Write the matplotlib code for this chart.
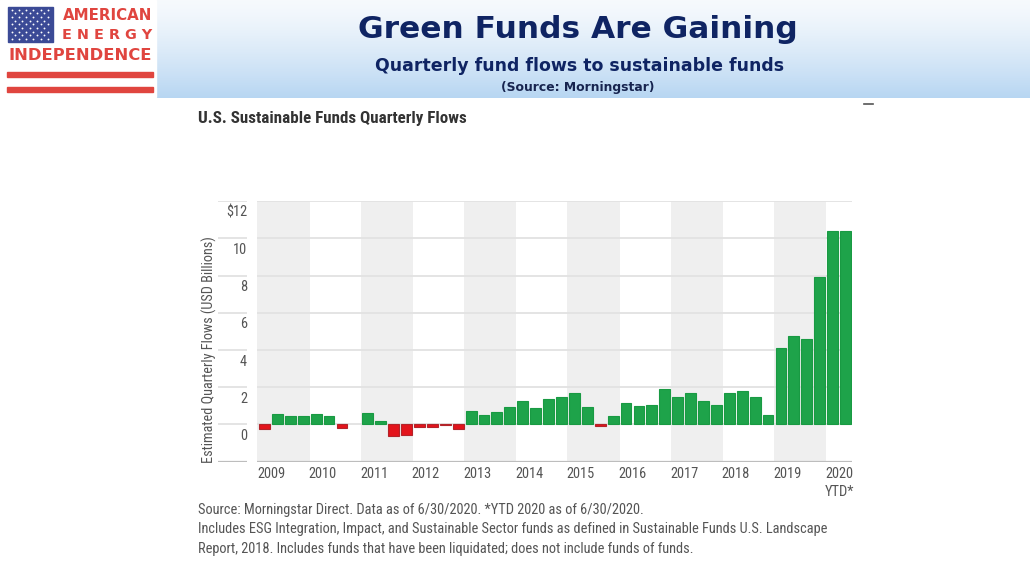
import numpy as np
import matplotlib
matplotlib.use("Agg")
import matplotlib.pyplot as plt
from matplotlib import font_manager

# quarterly flows, USD billions (2009 Q1 .. 2020 Q2)
years = ["2009", "2010", "2011", "2012", "2013", "2014", "2015",
         "2016", "2017", "2018", "2019", "2020"]
flows = [-0.25, 0.56, 0.43, 0.43,
         0.54, 0.47, -0.18, 0.0,
         0.59, 0.18, -0.61, -0.57,
         -0.14, -0.14, -0.03, -0.23,
         0.74, 0.50, 0.66, 0.91,
         1.27, 0.90, 1.38, 1.47,
         1.67, 0.95, -0.11, 0.45,
         1.13, 1.00, 1.04, 1.92,
         1.45, 1.67, 1.27, 1.06,
         1.70, 1.78, 1.49, 0.48,
         4.11, 4.75, 4.61, 7.91,
         10.42, 10.39]
ytick_vals = [0, 2, 4, 6, 8, 10, 12]
ytick_labels = ["0", "2", "4", "6", "8", "10", "$12"]

# pick the narrowest sans available for the Morningstar-style text
fonts = font_manager.fontManager.ttflist
names = {f.name for f in fonts}
stretch = "normal"
if "Liberation Sans Narrow" in names:
    narrow = "Liberation Sans Narrow"
elif "Roboto Condensed" in names:
    narrow = "Roboto Condensed"
elif any(f.name == "DejaVu Sans" and "condensed" in str(f.stretch) for f in fonts):
    narrow, stretch = "DejaVu Sans", "condensed"
else:
    narrow = "Liberation Sans"
nfont = dict(family=narrow, fontstretch=stretch)

W, H = 1030, 579
fig = plt.figure(figsize=(W / 100, H / 100), dpi=100)
fig.patch.set_facecolor("white")
rend = fig.canvas.get_renderer()


def fit(t, width):
    # scale a text's font size so it spans the given pixel width
    w = t.get_window_extent(rend).width
    t.set_fontsize(t.get_fontsize() * width / w)
    return t.get_fontsize()


# background axes in pixel coords for banner / logo / notes
bg = fig.add_axes([0, 0, 1, 1])
bg.set_xlim(0, W)
bg.set_ylim(H, 0)
bg.axis("off")

grad = np.linspace(0, 1, 100)[:, None]
top = np.array([0.965, 0.978, 0.992])
bot = np.array([0.72, 0.84, 0.95])
img = top + (bot - top) * grad[..., None] ** 1.3
bg.imshow(np.repeat(img, 2, axis=1), extent=[0, W, 98, 0], aspect="auto", zorder=0)

# logo
bg.add_patch(plt.Rectangle((0, 0), 156, 97, color="white", zorder=1))
bg.add_patch(plt.Rectangle((8, 7), 45, 35, color="#3b4a96", zorder=2))
sx, sy = [], []
for r in range(9):
    cols = 6 if r % 2 == 0 else 5
    off = 0 if r % 2 == 0 else 3.6
    for c in range(cols):
        sx.append(11.5 + off + c * 7.3)
        sy.append(9.5 + r * 3.7)
bg.scatter(sx, sy, s=1.8, color="white", zorder=3, linewidths=0)
red = "#e0453f"
bg.text(107.5, 15, "AMERICAN", color=red, fontsize=10.8, fontweight="bold",
        ha="center", va="center", zorder=3)
bg.text(107.5, 35, "E N E R G Y", color=red, fontsize=10.4, fontweight="bold",
        ha="center", va="center", zorder=3)
bg.text(80, 56, "INDEPENDENCE", color=red, fontsize=11.8, fontweight="bold",
        ha="center", va="center", zorder=3)
bg.add_patch(plt.Rectangle((7, 72), 146, 5, color=red, zorder=3))
bg.add_patch(plt.Rectangle((7, 87), 146, 5, color=red, zorder=3))

navy = "#0f2463"
bg.text(578, 30, "Green Funds Are Gaining", color=navy, fontsize=22.5,
        fontweight="bold", ha="center", va="center", zorder=3)
bg.text(580, 66, "Quarterly fund flows to sustainable funds", color=navy,
        fontsize=12.5, fontweight="bold", ha="center", va="center", zorder=3)
bg.text(578, 87, "(Source: Morningstar)", color="#17244f", fontsize=8.9,
        fontweight="bold", ha="center", va="center", zorder=3)
bg.plot([864, 873], [104, 104], color="#555555", lw=1.2, zorder=3)

t = bg.text(198, 118, "U.S. Sustainable Funds Quarterly Flows", color="#333333",
            fontsize=11.5, fontweight="bold", ha="left", va="center", **nfont)
fit(t, 270)
notes = ["Source: Morningstar Direct. Data as of 6/30/2020. *YTD 2020 as of 6/30/2020.",
         "Includes ESG Integration, Impact, and Sustainable Sector funds as defined in Sustainable Funds U.S. Landscape",
         "Report, 2018. Includes funds that have been liquidated; does not include funds of funds."]
note_txt = [bg.text(198, 510 + i * 19.5, line, color="#555555", fontsize=10,
                    ha="left", va="center", **nfont) for i, line in enumerate(notes)]
fs = fit(note_txt[1], 630)
for t in note_txt:
    t.set_fontsize(fs)

# chart axes
x0, x1, ytop, ybot = 218, 852, 201.3, 461.5
ax = fig.add_axes([x0 / W, (H - ybot) / H, (x1 - x0) / W, (ybot - ytop) / H])
ax.set_facecolor("none")
ax.set_xlim(-3.6, 45.5)
ax.set_ylim(-2, 12)
ax.axis("off")

for k in range(0, len(years), 2):
    ax.axvspan(4 * k - 0.55, min(4 * k + 3.5, 45.5), ymin=0, ymax=1,
               color="#efefef", lw=0, zorder=0)

for v in ytick_vals:
    ax.hlines(v, -0.55, 45.5, color="#e2e2e2", lw=1.3, zorder=1)
    ax.hlines(v, -3.6, -1.35, color="#e2e2e2", lw=1.3, zorder=1)
ax.hlines(-2, -0.55, 45.5, color="#bdbdbd", lw=1.6, zorder=1)
ax.hlines(-2, -3.6, -1.35, color="#bdbdbd", lw=1.6, zorder=1)

x = np.arange(len(flows))
vals = np.array(flows)
fill = np.where(vals >= 0, "#1ea34a", "#e3141c")
edge = np.where(vals >= 0, "#199a43", "#b3242a")
ax.bar(x, vals, width=0.84, color=fill, edgecolor=edge,
       linewidth=np.where(vals == 0, 0, 0.8), zorder=3)

# tick labels sized so that "2009" spans ~28 px
probe = ax.text(0, 0, "2009", fontsize=10, **nfont)
tick_fs = fit(probe, 28)
probe.remove()

for v, lab in zip(ytick_vals, ytick_labels):
    ax.text(-1.35, v - 0.62, lab, color="#555555", fontsize=tick_fs,
            ha="right", va="center", **nfont)

for k, yr in enumerate(years):
    ax.text(4 * k + 0.5, -2.65, yr, color="#555555", fontsize=tick_fs,
            ha="center", va="center", clip_on=False, **nfont)
ax.text(44.5, -3.65, "YTD*", color="#555555", fontsize=tick_fs,
        ha="center", va="center", clip_on=False, **nfont)

yl = ax.text(-4.3, 4.0, "Estimated Quarterly Flows (USD Billions)", color="#555555",
             fontsize=10, rotation=90, ha="center", va="center",
             clip_on=False, **nfont)
yl.set_fontsize(yl.get_fontsize() * 226 / yl.get_window_extent(rend).height)

fig.savefig("out.png", dpi=100)
